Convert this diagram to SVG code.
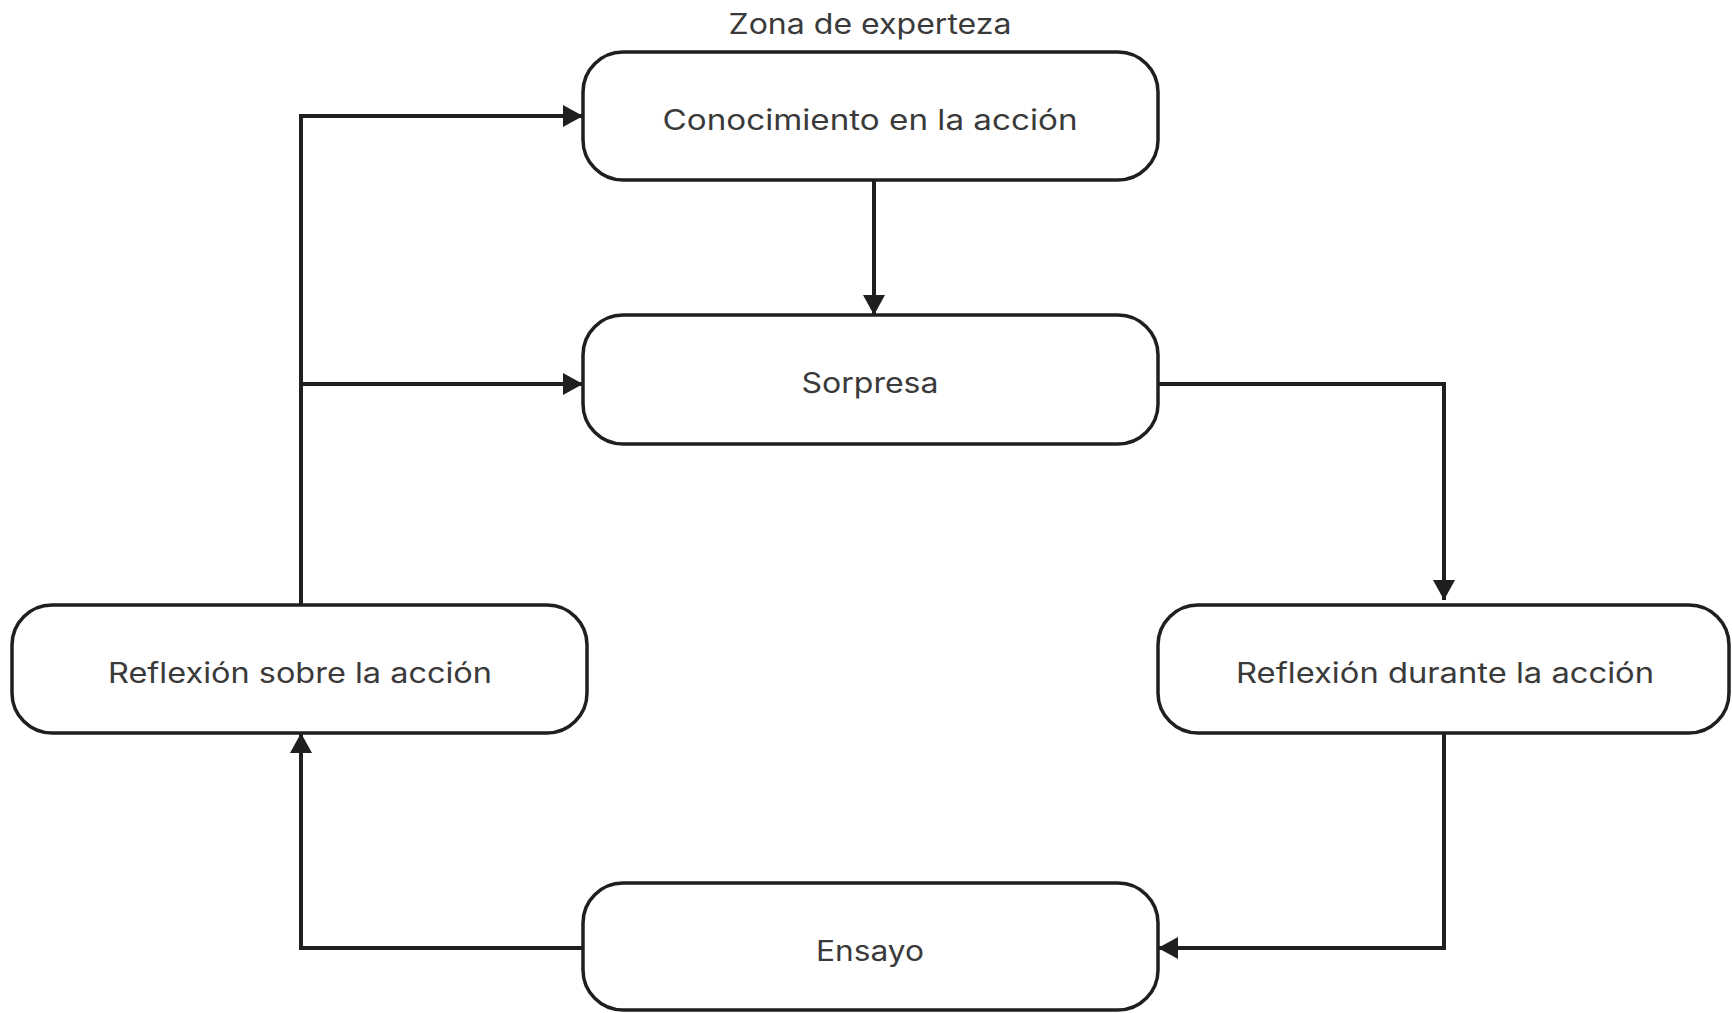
<svg xmlns="http://www.w3.org/2000/svg" width="1732" height="1013" viewBox="0 0 1732 1013">
  <style>
    .box { fill: #ffffff; stroke: #1f1f1f; stroke-width: 3.5; }
    .lbl { font-family: "Inter", "Liberation Sans", sans-serif; font-size: 28px; fill: #3a3a3a; text-anchor: middle; dominant-baseline: central; }
    .wire { fill: none; stroke: #1f1f1f; stroke-width: 4; stroke-linejoin: miter; }
  </style>
  <defs>
    <marker id="arrow" viewBox="0 0 20 22" refX="20" refY="11" markerWidth="20" markerHeight="22" markerUnits="userSpaceOnUse" orient="auto">
      <path d="M0,0 L20,11 L0,22 Z" fill="#1f1f1f"/>
    </marker>
  </defs>
  <rect width="1732" height="1013" fill="#ffffff"/>

  <text class="lbl" x="870" y="24" textLength="283" lengthAdjust="spacingAndGlyphs">Zona de experteza</text>

  <g id="connectors">
    <!-- Conocimiento -> Sorpresa -->
    <path class="wire" d="M874,180 L874,315" marker-end="url(#arrow)"/>
    <!-- Reflexión sobre -> Conocimiento -->
    <path class="wire" d="M301,605 L301,116 L583,116" marker-end="url(#arrow)"/>
    <!-- Reflexión sobre -> Sorpresa -->
    <path class="wire" d="M301,384 L583,384" marker-end="url(#arrow)"/>
    <!-- Sorpresa -> Reflexión durante -->
    <path class="wire" d="M1158,384 L1444,384 L1444,600" marker-end="url(#arrow)"/>
    <!-- Reflexión durante -> Ensayo -->
    <path class="wire" d="M1444,733 L1444,948 L1158,948" marker-end="url(#arrow)"/>
    <!-- Ensayo -> Reflexión sobre -->
    <path class="wire" d="M583,948 L301,948 L301,733" marker-end="url(#arrow)"/>
  </g>

  <g id="conocimiento">
    <rect class="box" x="583" y="52" width="575" height="128" rx="40" ry="40"/>
    <text class="lbl" x="870" y="120" textLength="415" lengthAdjust="spacingAndGlyphs">Conocimiento en la acción</text>
  </g>
  <g id="sorpresa">
    <rect class="box" x="583" y="315" width="575" height="129" rx="40" ry="40"/>
    <text class="lbl" x="870" y="383" textLength="137" lengthAdjust="spacingAndGlyphs">Sorpresa</text>
  </g>
  <g id="reflexion-sobre">
    <rect class="box" x="12" y="605" width="575" height="128" rx="40" ry="40"/>
    <text class="lbl" x="300" y="673" textLength="384" lengthAdjust="spacingAndGlyphs">Reflexión sobre la acción</text>
  </g>
  <g id="reflexion-durante">
    <rect class="box" x="1158" y="605" width="571" height="128" rx="40" ry="40"/>
    <text class="lbl" x="1445" y="673" textLength="418" lengthAdjust="spacingAndGlyphs">Reflexión durante la acción</text>
  </g>
  <g id="ensayo">
    <rect class="box" x="583" y="883" width="575" height="127" rx="40" ry="40"/>
    <text class="lbl" x="870" y="951" textLength="108" lengthAdjust="spacingAndGlyphs">Ensayo</text>
  </g>
</svg>
